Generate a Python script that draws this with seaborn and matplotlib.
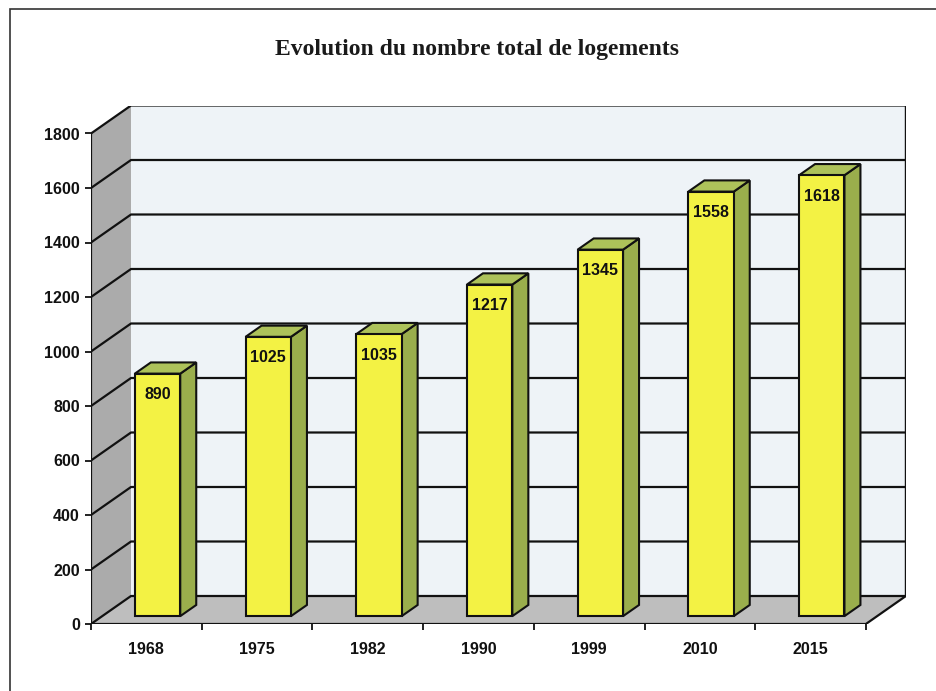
import matplotlib
matplotlib.use("Agg")
import matplotlib.pyplot as plt
import seaborn as sns
import pandas as pd
from matplotlib.patches import Polygon, Rectangle

# ---------------- data ----------------
years = ["1968", "1975", "1982", "1990", "1999", "2010", "2015"]
logements = [890, 1025, 1035, 1217, 1345, 1558, 1618]
y_ticks = [0, 200, 400, 600, 800, 1000, 1200, 1400, 1600, 1800]
title = "Evolution du nombre total de logements"

# ---------------- style ----------------
sns.set_theme(style="white")
plt.rcParams['font.family'] = ['Liberation Sans', 'DejaVu Sans']

C_FRONT = "#F3F244"
C_SIDE = "#9AAE4C"
C_TOP = "#ADC25A"
C_BACK = "#EEF3F7"
C_LWALL = "#ABABAB"
C_FLOOR = "#BEBEBE"
C_LINE = "#111111"

W, H = 936, 691
fig = plt.figure(figsize=(W / 100, H / 100), dpi=100)
fig.patch.set_facecolor("white")

# pixel geometry of the 3D box
X0, STEP, Y0, SCALE = 91, 110.7, 624, 0.2725
DPX, DPY = 40, 28
DX = DPX / STEP          # full depth in category units
DY = DPY / SCALE         # full depth in data units
YMAX = y_ticks[-1]
n = len(years)

ax = fig.add_axes([X0 / W, (H - Y0) / H, (n * STEP + DPX) / W, (YMAX * SCALE + DPY) / H])
ax.patch.set_visible(False)

# walls
xl, xr = -0.5, n - 0.5
ax.add_patch(Rectangle((xl + DX, DY), xr - xl, YMAX, facecolor=C_BACK, edgecolor="none", zorder=0))
ax.add_patch(Polygon([(xl, 0), (xl + DX, DY), (xl + DX, YMAX + DY), (xl, YMAX)],
                     closed=True, facecolor=C_LWALL, edgecolor="none", zorder=0))
ax.add_patch(Polygon([(xl, 0), (xr, 0), (xr + DX, DY), (xl + DX, DY)],
                     closed=True, facecolor=C_FLOOR, edgecolor="none", zorder=0))

# gridlines on side + back wall
for v in y_ticks:
    ax.plot([xl, xl + DX, xr + DX], [v, v + DY, v + DY], color=C_LINE, lw=1.6,
            zorder=1, solid_capstyle="butt")
# outline of box
ax.plot([xl, xl], [0, YMAX], color=C_LINE, lw=1.6, zorder=1)
ax.plot([xl, xr, xr + DX, xr + DX], [0, 0, DY, YMAX + DY], color=C_LINE, lw=1.6, zorder=1)

# bars (front faces)
df = pd.DataFrame({"annee": years, "logements": logements})
sns.barplot(data=df, x="annee", y="logements", color=C_FRONT, saturation=1,
            width=0.41, edgecolor=C_LINE, linewidth=1.5, ax=ax, zorder=5)

F = 0.28     # depth position of front face
G = 0.40     # bar depth fraction
ddx, ddy = G * DX, G * DY
bars = [p for p in ax.patches if isinstance(p, Rectangle) and p.get_zorder() == 5]
for p, val in zip(bars, logements):
    p.set_x(p.get_x() + F * DX)
    p.set_y(F * DY)
    x0 = p.get_x()
    x1 = x0 + p.get_width()
    b = p.get_y()
    t = b + p.get_height()
    ax.add_patch(Polygon([(x1, b), (x1 + ddx, b + ddy), (x1 + ddx, t + ddy), (x1, t)],
                         closed=True, facecolor=C_SIDE, edgecolor=C_LINE, lw=1.5, zorder=4))
    ax.add_patch(Polygon([(x0, t), (x1, t), (x1 + ddx, t + ddy), (x0 + ddx, t + ddy)],
                         closed=True, facecolor=C_TOP, edgecolor=C_LINE, lw=1.5, zorder=4))
    ax.text((x0 + x1) / 2, t - 77, f"{val}", ha="center", va="center",
            fontsize=11.5, fontweight="bold", color="#111111", zorder=6)

ax.set_xlim(xl, xr + DX)
ax.set_ylim(0, YMAX + DY)
for s in ax.spines.values():
    s.set_visible(False)
ax.set_xlabel("")
ax.set_ylabel("")

ax.set_yticks(y_ticks)
ax.set_yticklabels([str(v) for v in y_ticks])
ax.tick_params(axis="y", which="major", left=True, direction="out", length=4, width=1.3,
               pad=4, labelsize=11.5, colors=C_LINE)
ax.set_xticks(range(n))
ax.set_xticklabels(years)
ax.set_xticks([i - 0.5 for i in range(n + 1)], minor=True)
ax.tick_params(axis="x", which="major", bottom=True, length=0, pad=13, labelsize=11.5,
               colors=C_LINE)
ax.tick_params(axis="x", which="minor", bottom=True, direction="out", length=4, width=1.3,
               color=C_LINE)
for lab in ax.get_xticklabels() + ax.get_yticklabels():
    lab.set_fontweight("bold")

# title and frame
fig.text(477 / W, 1 - 50 / H, title, ha="center", va="center",
         family=["Liberation Serif", "DejaVu Serif"], fontweight="bold", fontsize=17,
         color="#1a1a1a")
fig.add_artist(Rectangle((10 / W, -0.1), 1.2, 1.1 - 9 / H, transform=fig.transFigure,
                         fill=False, edgecolor="#333333", lw=1.2))

fig.savefig("out.png", dpi=100)
